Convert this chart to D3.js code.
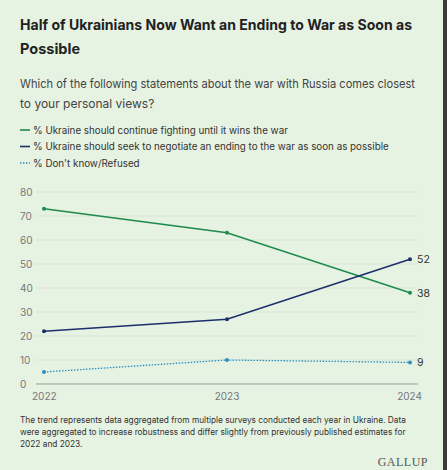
<!DOCTYPE html>
<html><head><meta charset="utf-8">
<script src="https://cdn.jsdelivr.net/npm/d3@7"></script>
<style>body{margin:0;background:#e6f2e2}</style>
</head><body>
<svg id="c" width="447" height="470"></svg>
<script>
const years = [2022, 2023, 2024]
const fight = [73, 63, 38]
const negotiate = [22, 27, 52]
const dontKnow = [5, 10, 9]
const yTicks = [0, 10, 20, 30, 40, 50, 60, 70, 80]
const legendLabels = [
  "% Ukraine should continue fighting until it wins the war",
  "% Ukraine should seek to negotiate an ending to the war as soon as possible",
  "% Don't know/Refused"
]
const colors = ["#1f8a4c", "#1c2f6b", "#2a8fc2"]
const series = [fight, negotiate, dontKnow]

const svg = d3.select("#c")
svg.append("rect").attr("width", 447).attr("height", 470).attr("fill", "#e6f2e2")
svg.append("rect").attr("x", 443).attr("width", 4).attr("height", 470).attr("fill", "#3a3a3a")

const font = "Inter, 'Open Sans', sans-serif"
const t = svg.append("g").attr("font-family", font)
t.append("text").attr("x", 20).attr("y", 30).attr("font-size", 14.5).attr("font-weight", 700).attr("fill", "#222")
  .attr("textLength", 392).attr("lengthAdjust", "spacingAndGlyphs")
  .text("Half of Ukrainians Now Want an Ending to War as Soon as")
t.append("text").attr("x", 20).attr("y", 54).attr("font-size", 14.5).attr("font-weight", 700).attr("fill", "#222")
  .text("Possible")
t.append("text").attr("x", 20).attr("y", 88).attr("font-size", 12).attr("fill", "#444")
  .attr("textLength", 395).attr("lengthAdjust", "spacingAndGlyphs")
  .text("Which of the following statements about the war with Russia comes closest")
t.append("text").attr("x", 20).attr("y", 108).attr("font-size", 12).attr("fill", "#444")
  .text("to your personal views?")

legendLabels.forEach((l, i) => {
  const y = 130 + i * 16.5
  t.append("line").attr("x1", 20).attr("x2", 30).attr("y1", y).attr("y2", y)
    .attr("stroke", colors[i]).attr("stroke-width", 1.6)
    .attr("stroke-dasharray", i === 2 ? "1.5,1.5" : null)
  t.append("text").attr("x", 33).attr("y", y + 3.5).attr("font-size", 9.8).attr("fill", "#333").text(l)
})

const x = d3.scaleLinear().domain([2022, 2024]).range([44, 410])
const y = d3.scaleLinear().domain([0, 80]).range([384, 192])

const g = svg.append("g").attr("font-family", font)
yTicks.forEach(v => {
  g.append("line").attr("x1", 36).attr("x2", 418).attr("y1", y(v)).attr("y2", y(v))
    .attr("stroke", v === 0 ? "#999" : "#d2e2cf").attr("stroke-width", v === 0 ? 1 : 0.7)
  g.append("text").attr("x", 20).attr("y", y(v) + 4).attr("font-size", 10).attr("fill", "#777").text(v)
})
years.forEach((yr, i) => {
  g.append("text").attr("x", x(yr)).attr("y", 400).attr("font-size", 10).attr("fill", "#777")
    .attr("text-anchor", i === 0 ? "start" : i === 2 ? "end" : "middle")
    .attr("dx", i === 0 ? -12 : i === 2 ? 12 : 0).text(yr)
})

const line = d3.line().x((d, i) => x(years[i])).y(d => y(d))
series.forEach((s, k) => {
  g.append("path").attr("d", line(s)).attr("fill", "none").attr("stroke", colors[k])
    .attr("stroke-width", k === 2 ? 1.3 : 1.6).attr("stroke-dasharray", k === 2 ? "1.5,1.5" : null)
  g.selectAll(null).data(s).join("circle").attr("cx", (d, i) => x(years[i])).attr("cy", d => y(d))
    .attr("r", 2).attr("fill", colors[k])
  g.append("text").attr("x", x(2024) + 7).attr("y", y(s[2]) + 4).attr("font-size", 10.5).attr("fill", "#333")
    .text(s[2])
})

const notes = [
  "The trend represents data aggregated from multiple surveys conducted each year in Ukraine. Data",
  "were aggregated to increase robustness and differ slightly from previously published estimates for",
  "2022 and 2023."
]
notes.forEach((n, i) => t.append("text").attr("x", 20).attr("y", 423 + i * 12).attr("font-size", 8.3)
  .attr("fill", "#333").text(n))
svg.append("text").attr("x", 428).attr("y", 466).attr("text-anchor", "end")
  .attr("font-family", "'Liberation Serif', serif").attr("font-size", 12).attr("fill", "#555")
  .attr("letter-spacing", 0.5).text("GALLUP")
</script>
</body></html>
